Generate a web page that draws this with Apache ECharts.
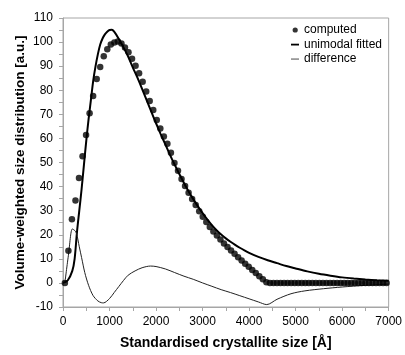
<!DOCTYPE html>
<html>
<head>
<meta charset="utf-8">
<script src="https://cdn.jsdelivr.net/npm/echarts@6/dist/echarts.min.js"></script>
<style>
html,body{margin:0;padding:0;background:#fff;}
#chart{width:405px;height:355px;}
</style>
</head>
<body>
<div id="chart"></div>
<script>
// Computed distribution (dots)
var computedX = [40,116,192,268,344,420,496,572,648,724,800,876,952,1028,1104,1180,1256,1332,1408,1484,1560,1636,1712,1788,1864,1940,2016,2092,2168,2244,2320,2396,2472,2548,2624,2700,2776,2852,2928,3004,3080,3156,3232,3308,3384,3460,3536,3612,3688,3764,3840,3916,3992,4068,4144,4220,4296,4372,4448,4524,4600,4676,4752,4828,4904,4980,5056,5132,5208,5284,5360,5436,5512,5588,5664,5740,5816,5892,5968,6044,6120,6196,6272,6348,6424,6500,6576,6652,6728,6804,6880,6956];
var computedY = [0,13.4,26.4,34.2,43.6,52.6,61.4,70.5,77.6,84.7,89.7,94.1,97,99,99.8,100.2,99.4,97.8,95.8,93.1,90.2,87.1,83.5,79.5,75.5,71.8,67.6,64.1,60.8,57.8,54.1,49.8,46.6,43.1,40.2,37.4,34.8,32.4,29.8,27.5,25.3,23.2,21.4,19.7,18.0,16.4,14.9,13.5,12.1,10.7,9.3,8.0,6.7,5.4,4.1,2.8,1.5,0.3,0,0,0,0,0,0,0,0,0,0,0,0,0,0,0,0,0,0,0,0,0,0,0,0,0,0,0,0,0,0,0,0,0,0];

// Unimodal fitted curve
var fittedX = [0,100,200,250,300,350,400,450,500,550,600,650,700,750,800,850,900,950,1000,1050,1100,1200,1300,1400,1500,1600,1700,1800,1900,2000,2100,2200,2300,2400,2500,2600,2700,2800,2900,3000,3100,3200,3300,3400,3500,3600,3700,3800,3900,4000,4200,4400,4600,4800,5000,5250,5500,5750,6000,6250,6500,6750,7000];
var fittedY = [0,1,5,10,21,30,39,49,59,68,76,84,90,95,99,101.5,103.2,104.3,105,105.1,104.3,101.3,97.8,94,89.5,85.2,80.6,75.8,71,66.3,61.8,57.5,53.2,49.1,45.2,41.5,38,34.8,31.8,29,26.4,24,21.9,20.1,18.5,17.1,15.8,14.6,13.5,12.5,10.8,9.4,8.2,7,6,4.8,3.8,3,2.3,1.8,1.4,1.1,0.9];

// Difference curve
var diffX = [40,120,200,250,290,350,400,468,550,645,750,823,870,1000,1100,1200,1300,1400,1550,1700,1880,2000,2200,2400,2600,2800,3000,3200,3400,3600,3800,4000,4200,4380,4600,4900,5200,5600,6000,6500,7000];
var diffY = [0,12,22.4,21.8,20.6,15,10.5,4.3,-1,-5.2,-7.5,-8.2,-8.3,-6.5,-4,-1.5,1,3.2,5,6.3,7,6.8,5.8,4.3,2.8,1.5,0,-1.4,-2.8,-4.0,-5.3,-6.6,-7.9,-9,-6.8,-4.5,-3.3,-2.4,-1.7,-1.0,-0.5];

var seriesNames = ['computed','unimodal fitted','difference'];

function pairs(xs, ys){ var out=[]; for(var i=0;i<xs.length;i++){ out.push([xs[i], ys[i]]); } return out; }

var FONT = "'Liberation Sans', Arial, sans-serif";
var DOT_ICON = 'path://M0,0M1.6,6a2.6,2.6 0 1,0 5.2,0a2.6,2.6 0 1,0 -5.2,0zM8,12';
var LINE_ICON = 'path://M0,0M0,5.2L8,5.2L8,7L0,7ZM8,12';
var chart = echarts.init(document.getElementById('chart'), null, {renderer:'canvas'});
chart.setOption({
  animation:false,
  backgroundColor:'#fff',
  textStyle:{fontFamily:FONT, color:'#000'},
  grid:{left:63, right:13, top:18, bottom:43, show:true, borderColor:'#a6a6a6', borderWidth:1, backgroundColor:'transparent'},
  legend:{
    orient:'vertical', left:286, top:19, itemGap:2.5, itemWidth:8, itemHeight:12,
    textStyle:{fontFamily:FONT, fontSize:12, color:'#000'},
    data:[
      {name:'computed', icon:DOT_ICON, itemStyle:{color:'#000'}},
      {name:'unimodal fitted', icon:LINE_ICON, itemStyle:{color:'#000'}},
      {name:'difference', icon:LINE_ICON, itemStyle:{color:'#9a9a9a'}}
    ]
  },
  xAxis:{
    type:'value', min:0, max:7000, interval:1000,
    name:'Standardised crystallite size [Å]', nameLocation:'middle', nameGap:29, nameMoveOverlap:false,
    nameTextStyle:{fontFamily:FONT, fontSize:14, fontWeight:'bold', color:'#000'},
    axisLine:{show:true, onZero:false, lineStyle:{color:'#a6a6a6', width:1}},
    axisTick:{show:true, length:4, inside:false, lineStyle:{color:'#a6a6a6'}},
    minorTick:{show:true, splitNumber:2, length:4, lineStyle:{color:'#a6a6a6'}},
    splitLine:{show:false},
    axisLabel:{fontFamily:FONT, fontSize:12, color:'#000', margin:9, formatter:function(v){return String(v);}}
  },
  yAxis:{
    type:'value', min:-10, max:110, interval:10,
    name:'Volume-weighted size distribution [a.u.]', nameLocation:'middle', nameGap:36, nameMoveOverlap:false,
    nameTextStyle:{fontFamily:FONT, fontSize:13.5, fontWeight:'bold', color:'#000'},
    axisLine:{show:true, onZero:false, lineStyle:{color:'#a6a6a6', width:1}},
    axisTick:{show:true, length:4, inside:false, lineStyle:{color:'#a6a6a6'}},
    minorTick:{show:true, splitNumber:2, length:4, lineStyle:{color:'#a6a6a6'}},
    splitLine:{show:false},
    axisLabel:{fontFamily:FONT, fontSize:12, color:'#000', margin:10}
  },
  series:[
    {name:seriesNames[0], type:'scatter', data:pairs(computedX, computedY), symbol:'circle', symbolSize:6.5, itemStyle:{color:'#000'}, z:3},
    {name:seriesNames[1], type:'line', data:pairs(fittedX, fittedY), symbol:'none', smooth:0.3, lineStyle:{color:'#000', width:2}, itemStyle:{color:'#000'}, z:2},
    {name:seriesNames[2], type:'line', data:pairs(diffX, diffY), symbol:'none', smooth:0.3, lineStyle:{color:'#222', width:1}, itemStyle:{color:'#222'}, z:2}
  ]
});
</script>
</body>
</html>
